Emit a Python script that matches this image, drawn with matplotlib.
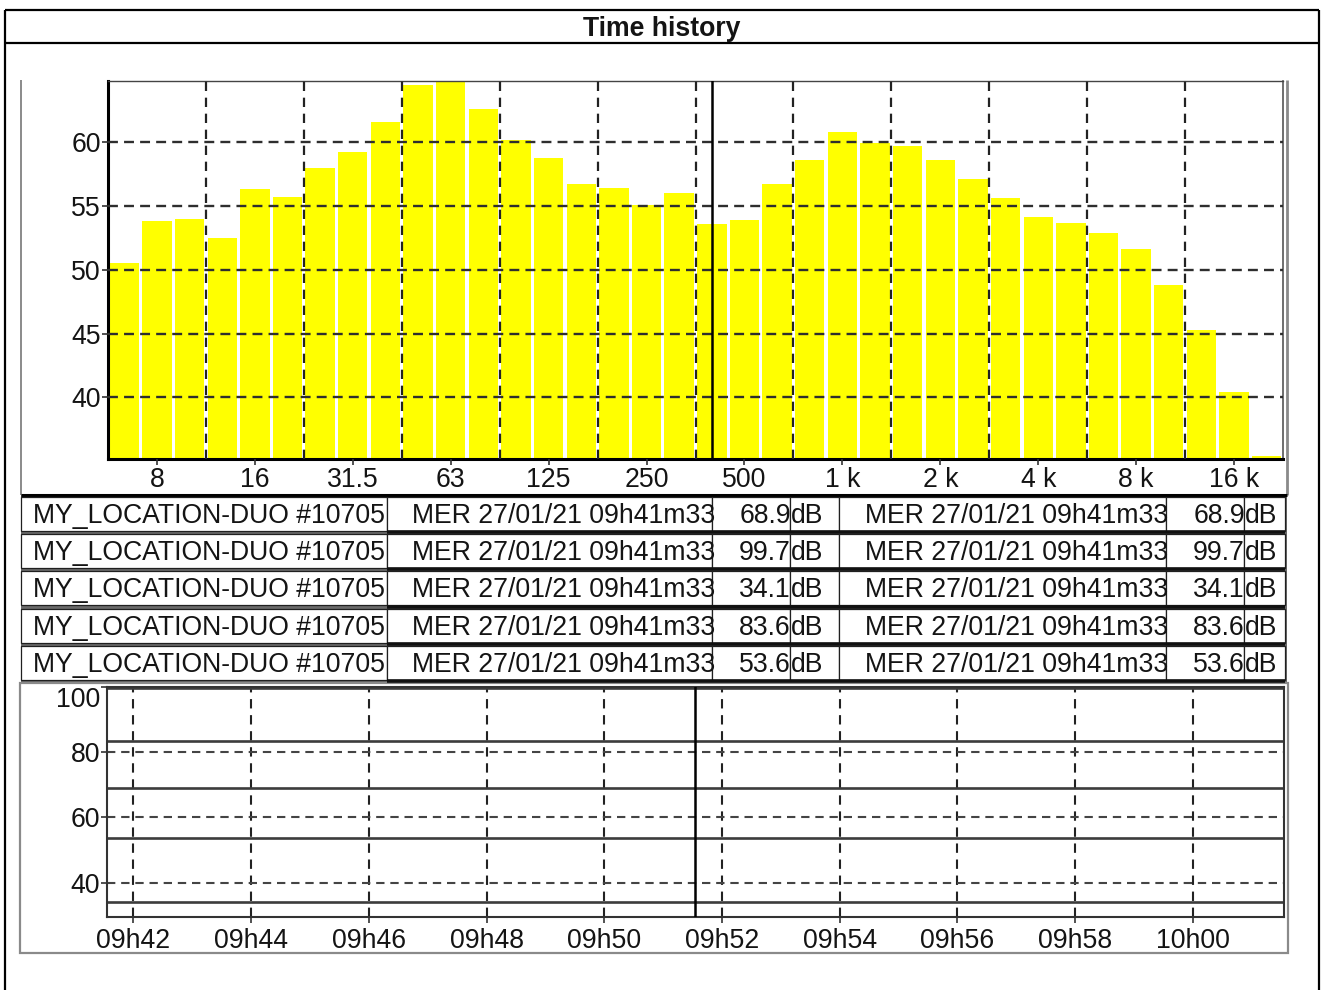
import matplotlib
matplotlib.use("Agg")
import matplotlib.pyplot as plt
from matplotlib.patches import Rectangle
from matplotlib.lines import Line2D
from matplotlib.transforms import Bbox
import numpy as np

plt.rcParams['font.family'] = ['Liberation Sans', 'DejaVu Sans']

# ---------------- data ----------------
title = "Time history"
bands = ['6.3', '8', '10', '12.5', '16', '20', '25', '31.5', '40', '50', '63', '80',
         '100', '125', '160', '200', '250', '315', '400', '500', '630', '800', '1 k',
         '1.25 k', '1.6 k', '2 k', '2.5 k', '3.15 k', '4 k', '5 k', '6.3 k', '8 k',
         '10 k', '12.5 k', '16 k', '20 k']
spectrum_db = [50.5, 53.8, 54.0, 52.5, 56.3, 55.7, 58.0, 59.2, 61.6, 64.5, 64.7, 62.6,
               60.2, 58.8, 56.7, 56.4, 55.1, 56.0, 53.6, 53.9, 56.7, 58.6, 60.8, 59.9,
               59.7, 58.6, 57.1, 55.6, 54.1, 53.7, 52.9, 51.6, 48.8, 45.3, 40.4, 35.4]
labeled_bands = ['8', '16', '31.5', '63', '125', '250', '500', '1 k', '2 k', '4 k', '8 k', '16 k']
spectrum_cursor_band = '400'
spectrum_yticks = [40, 45, 50, 55, 60]

row_locations = ["MY_LOCATION-DUO #10705"] * 5
row_timestamps = ["MER 27/01/21 09h41m33"] * 5
row_levels = [68.9, 99.7, 34.1, 83.6, 53.6]
row_unit = "dB"

# time axis in minutes after 09h00
history_start = 41.55   # 09h41m33
history_end = 61.55     # 10h01m33
history_cursor = 51.55
time_ticks = [42, 44, 46, 48, 50, 52, 54, 56, 58, 60]
time_labels = ['09h42', '09h44', '09h46', '09h48', '09h50', '09h52', '09h54',
               '09h56', '09h58', '10h00']
history_yticks = [40, 60, 80, 100]

# ---------------- figure ----------------
W, H = 1321, 990
fig = plt.figure(figsize=(W / 100, H / 100), dpi=100)
FS = 19.2
TXT = '#141414'

def ax_rect(l, t, r, b):
    return [l / W, (H - b) / H, (r - l) / W, (b - t) / H]

bg = fig.add_axes([0, 0, 1, 1], zorder=-5)
bg.set_xlim(0, W)
bg.set_ylim(H, 0)
bg.axis('off')

def hline(y, x0, x1, lw=2.0, color='black', z=1):
    bg.add_line(Line2D([x0, x1], [y, y], lw=lw, color=color, zorder=z, solid_capstyle='butt'))

def vline(x, y0, y1, lw=2.0, color='black', z=1):
    bg.add_line(Line2D([x, x], [y0, y1], lw=lw, color=color, zorder=z, solid_capstyle='butt'))

# outer border and title
hline(10, 5, 1319, lw=1.6)
hline(43, 5, 1319, lw=1.6)
vline(5, 10, H, lw=1.6)
vline(1319, 10, H, lw=1.6)
bg.text(662, 36, title, ha='center', va='baseline', fontsize=FS, fontweight='bold', color=TXT)

# spectrum panel frame
vline(21, 80, 495, lw=1.4, color='#8a8a8a')
vline(1287, 80, 495, lw=2.0, color='#8a8a8a')
hline(495, 21, 1287, lw=2.2, color='black')

# ---------------- table ----------------
row_top0, row_pitch, row_h = 497, 37.2, 34
cols = [21, 387, 712, 790, 839, 1166, 1244, 1285]
bg.add_patch(Rectangle((21, 495), 1266, 188, facecolor='#6a6a6a', edgecolor='none', zorder=0.5))
for i in range(5):
    top = row_top0 + i * row_pitch
    for c in range(7):
        x0, x1 = cols[c], cols[c + 1]
        bg.add_patch(Rectangle((x0, top), x1 - x0, row_h, facecolor='white',
                               edgecolor='#202020', lw=0.9, zorder=1))
    # dark bottom rule on the right group of cells
    hline(top + row_h + 1.2, cols[1], cols[7], lw=2.6, color='#111111', z=1.2)
    base = top + 26
    texts = [
        (33, row_locations[i], 'left', 0),
        (412, row_timestamps[i], 'left', 1),
        (791, f"{row_levels[i]:.1f}", 'right', 2),
        (791, row_unit, 'left', 3),
        (865, row_timestamps[i], 'left', 4),
        (1245, f"{row_levels[i]:.1f}", 'right', 5),
        (1245, row_unit, 'left', 6),
    ]
    for x, s, ha, c in texts:
        t = bg.text(x, base, s, ha=ha, va='baseline', fontsize=FS, color=TXT, zorder=2)
        x0, x1 = cols[c], cols[c + 1]
        t.set_clip_box(Bbox.from_extents(x0, H - (top + row_h), x1 + 1, H - top))

# bottom panel frame
bg.add_patch(Rectangle((20, 683), 1268, 270, facecolor='white', edgecolor='#8a8a8a', lw=1.6, zorder=0.8))

# ---------------- spectrum chart ----------------
ax = fig.add_axes(ax_rect(108, 81, 1283, 459))
xpos = np.arange(len(bands))
ax.bar(xpos, spectrum_db, width=0.9, color='#ffff00', edgecolor='none', zorder=1)
ax.set_xlim(-0.5, len(bands) - 0.5)
ax.set_ylim(35.16, 64.8)
ax.set_yticks(spectrum_yticks)
ax.set_yticklabels([str(v) for v in spectrum_yticks])
lab_idx = [bands.index(b) for b in labeled_bands]
ax.set_xticks(lab_idx)
ax.set_xticklabels(labeled_bands)
ax.set_xticks(np.arange(2.5, len(bands) - 1, 3), minor=True)
ax.tick_params(axis='x', which='minor', length=0)
ax.tick_params(axis='both', which='major', labelsize=FS, labelcolor=TXT, color='#333333',
               length=4, width=1.2)
ax.tick_params(axis='x', which='major', pad=2)
ax.tick_params(axis='y', which='major', pad=1)
ax.set_axisbelow(False)
ax.grid(axis='y', which='major', color='#2e2e2e', lw=1.7, linestyle=(0, (4.2, 2.6)))
ax.grid(axis='x', which='minor', color='#222222', lw=1.6, linestyle=(0, (4.2, 3.0)))
ax.grid(axis='x', which='major', visible=False)
ax.axvline(bands.index(spectrum_cursor_band), color='black', lw=1.8, zorder=3)
ax.spines['left'].set_linewidth(2.2)
ax.spines['bottom'].set_linewidth(2.2)
ax.spines['top'].set_linewidth(1.0)
ax.spines['top'].set_color('#444444')
ax.spines['right'].set_linewidth(1.2)
ax.spines['right'].set_color('#555555')

# ---------------- time history chart ----------------
ax2 = fig.add_axes(ax_rect(107, 687, 1284, 917))
for lv in row_levels:
    ax2.plot([history_start, history_end], [lv, lv], color='#3c3c3c', lw=1.9, zorder=2)
ax2.set_xlim(history_start, history_end)
ax2.set_ylim(29.5, 100)
ax2.set_xticks(time_ticks)
ax2.set_xticklabels(time_labels)
ax2.set_yticks(history_yticks)
ax2.set_yticklabels([str(v) for v in history_yticks])
ax2.tick_params(axis='both', labelsize=FS, labelcolor=TXT, color='#333333', length=4, width=1.2)
ax2.tick_params(axis='x', pad=4)
ax2.tick_params(axis='y', pad=1)
ax2.get_yticklabels()[-1].set_va('top')
ax2.grid(axis='y', color='#444444', lw=1.5, linestyle=(0, (4.0, 2.8)))
ax2.grid(axis='x', color='#222222', lw=1.5, linestyle=(0, (4.5, 3.2)))
ax2.axvline(history_cursor, color='black', lw=1.8, zorder=3)
for s in ax2.spines.values():
    s.set_color('#333333')
    s.set_linewidth(1.5)

fig.savefig('out.png', dpi=100)
